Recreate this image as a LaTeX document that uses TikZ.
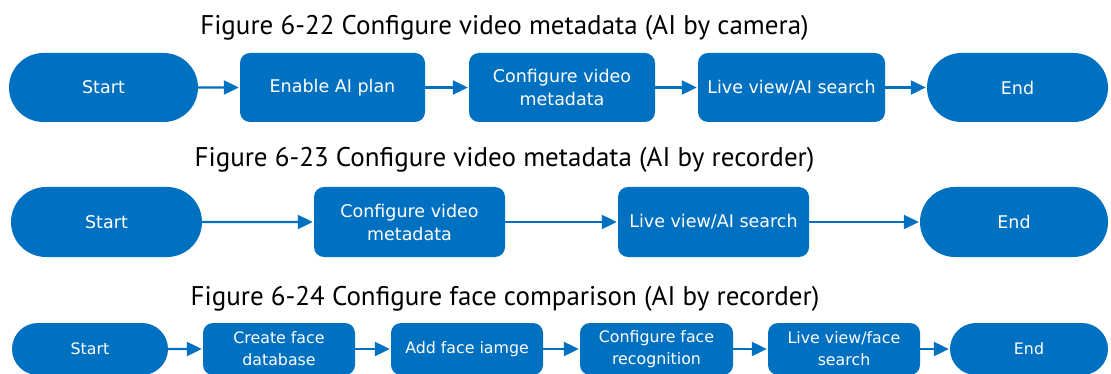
\documentclass[tikz,border=0pt]{standalone}
\usepackage{fontspec}
\setmainfont{PT Sans}
\newfontfamily\boxfont{DejaVu Sans}
\usetikzlibrary{shapes.misc,arrows.meta}
\definecolor{myblue}{RGB}{0,112,192}
\tikzset{
  blk/.style={fill=myblue, rounded corners=10pt, text=white, align=center,
    inner sep=0pt, font=\boxfont\fontsize{17.5}{23}\selectfont},
  pill/.style={fill=myblue, rounded rectangle, text=white, align=center,
    inner sep=0pt, font=\boxfont\fontsize{17.5}{23}\selectfont},
  small/.style={font=\boxfont\fontsize{15.8}{22}\selectfont},
  arr/.style={draw=myblue, line width=2.2pt, -{Triangle[length=15pt,width=14pt]}, shorten >=1pt},
  ttl/.style={font=\fontsize{27}{30}\selectfont, anchor=base, inner sep=0pt},
}
\begin{document}
\begin{tikzpicture}[x=1pt,y=-1pt]
\useasboundingbox[fill=white] (0,0) rectangle (1111,374);
% titles
\node[ttl] (t1) at (504.5,35) {Figure 6-22 Configure video metadata (AI by camera)};
\node[ttl] (t2) at (504.5,167) {Figure 6-23 Configure video metadata (AI by recorder)};
\node[ttl] (t3) at (505,305) {Figure 6-24 Configure face comparison (AI by recorder)};
% row 1
\node[pill, minimum width=189pt, minimum height=69pt] (a1) at (103.5,87.5) {Start};
\node[blk, minimum width=185pt, minimum height=69pt] (a2) at (332.5,87.5) {Enable AI plan};
\node[blk, minimum width=186pt, minimum height=69pt] (a3) at (562,87.5) {Configure video\\metadata};
\node[blk, minimum width=187pt, minimum height=69pt] (a4) at (791.5,87.5) {Live view/AI search};
\node[pill, minimum width=181pt, minimum height=69pt] (a5) at (1017.5,87.5) {End};
\draw[arr] (a1) -- (a2);
\draw[arr] (a2) -- (a3);
\draw[arr] (a3) -- (a4);
\draw[arr] (a4) -- (a5);
% row 2
\node[pill, minimum width=191pt, minimum height=70pt] (b1) at (106.5,222) {Start};
\node[blk, minimum width=191pt, minimum height=70pt] (b2) at (409.5,222) {Configure video\\metadata};
\node[blk, minimum width=191pt, minimum height=70pt] (b3) at (713.5,222) {Live view/AI search};
\node[pill, minimum width=188pt, minimum height=70pt] (b4) at (1014,222) {End};
\draw[arr] (b1) -- (b2);
\draw[arr] (b2) -- (b3);
\draw[arr] (b3) -- (b4);
% row 3
\node[pill, small, minimum width=156pt, minimum height=52pt] (c1) at (90,349) {Start};
\node[blk, small, minimum width=152pt, minimum height=52pt] (c2) at (279,349) {Create face\\database};
\node[blk, small, minimum width=152pt, minimum height=52pt] (c3) at (467,349) {Add face iamge};
\node[blk, small, minimum width=153pt, minimum height=52pt] (c4) at (656.5,349) {Configure face\\recognition};
\node[blk, small, minimum width=152pt, minimum height=52pt] (c5) at (844,349) {Live view/face\\search};
\node[pill, small, minimum width=158pt, minimum height=52pt] (c6) at (1029,349) {End};
\draw[arr] (c1) -- (c2);
\draw[arr] (c2) -- (c3);
\draw[arr] (c3) -- (c4);
\draw[arr] (c4) -- (c5);
\draw[arr] (c5) -- (c6);
\end{tikzpicture}
\end{document}
